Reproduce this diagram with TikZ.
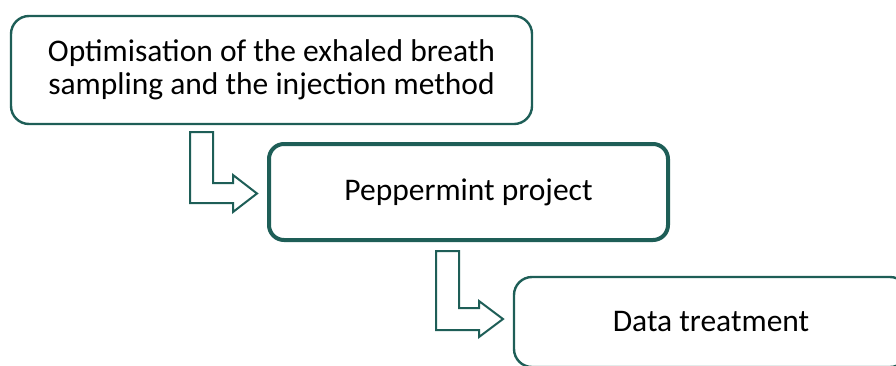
\documentclass[tikz,border=0pt]{standalone}
\usepackage{fontspec}
\setmainfont{Carlito}
\definecolor{boxgreen}{RGB}{30,94,87}
\begin{document}
\begin{tikzpicture}[x=1pt,y=-1pt,
  box/.style={draw=boxgreen, rounded corners=18pt, align=center, inner sep=0pt,
    font=\fontsize{31.5}{33}\selectfont, text=black},
  bentarrow/.style={draw=boxgreen, line width=2pt, line join=miter, fill=white}]
\useasboundingbox (0,0) rectangle (896,365);
\clip (0,0) rectangle (896,365);
\node[box, line width=2.4pt, minimum width=521pt, minimum height=108pt] (b1) at (271.5,70)
  {Optimisation of the exhaled breath\\sampling and the injection method};
\node[box, line width=4pt, rounded corners=15pt, minimum width=399pt, minimum height=96pt] (b2) at (468.5,192)
  {Peppermint project};
\node[box, line width=2.4pt, minimum width=394pt, minimum height=90pt] (b3) at (711,322)
  {Data treatment};
\draw[bentarrow, shift={(190,132)}] (0,0) -- (23,0) -- (23,51) -- (43,51) -- (43,43) -- (67,61.5)
  -- (43,80) -- (43,71) -- (0,71) -- cycle;
\draw[bentarrow, shift={(436,251)}] (0,0) -- (23,0) -- (23,57) -- (43,57) -- (43,50) -- (67,68)
  -- (43,86) -- (43,79) -- (0,79) -- cycle;
\end{tikzpicture}
\end{document}
